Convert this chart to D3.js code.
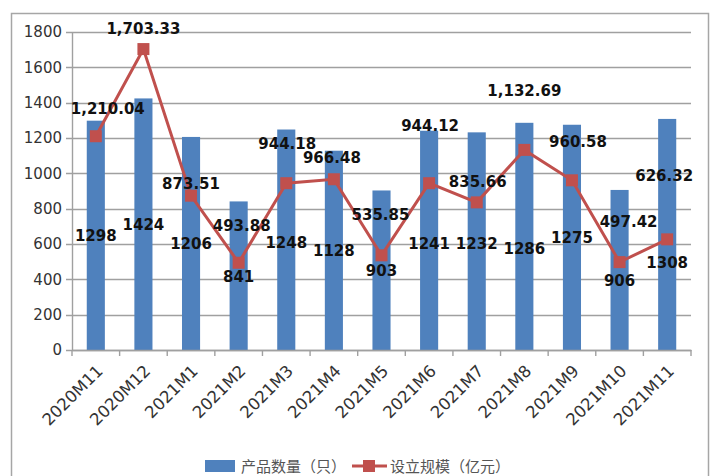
<!DOCTYPE html>
<html><head><meta charset="utf-8">
<script src="https://cdn.jsdelivr.net/npm/d3@7/dist/d3.min.js"></script>
<style>body{margin:0;background:#fff}svg{display:block}</style>
</head><body><div id="chart"></div>
<script>
const categories = ["2020M11","2020M12","2021M1","2021M2","2021M3","2021M4","2021M5","2021M6","2021M7","2021M8","2021M9","2021M10","2021M11"];
const productCount = [1298,1424,1206,841,1248,1128,903,1241,1232,1286,1275,906,1308];
const scaleValue = [1210.04,1703.33,873.51,493.88,944.18,966.48,535.85,944.12,835.66,1132.69,960.58,497.42,626.32];
const yTicks = [0,200,400,600,800,1000,1200,1400,1600,1800];
const seriesNames = ["产品数量（只）","设立规模（亿元）"];

// layout nudges for data labels (pixels), mimicking original placement
const barLabelDy = [0,0,0,0,2,0,0,3,2,12,0,10,28];
const lineLabelDx = [12,0,0,3,1,-2,-1,1,1,0,6,9,-3];
const lineLabelDy = [-28,-21,-13,-38,-40,-22,-41,-58,-21,-60,-39,-41,-64];

const W = 720, H = 476;
const m = {left:72, right:29, top:32, bottom:126};
const svg = d3.select("#chart").append("svg").attr("width",W).attr("height",H);
const font = "DejaVu Sans, sans-serif";

svg.append("rect").attr("x",11.5).attr("y",13.5).attr("width",697).attr("height",480)
  .attr("fill","none").attr("stroke","#a6a6a6").attr("stroke-width",1.5);

const x = d3.scaleBand().domain(categories).range([m.left, W-m.right]).paddingInner(0.62).paddingOuter(0.31);
const y = d3.scaleLinear().domain([0,1800]).range([H-m.bottom, m.top]);
const step = x.step();

// gridlines
svg.append("g").selectAll("line").data(yTicks).join("line")
  .attr("x1",m.left-6).attr("x2",W-m.right)
  .attr("y1",d=>Math.round(y(d))+0.5).attr("y2",d=>Math.round(y(d))+0.5)
  .attr("stroke","#a0a0a0").attr("stroke-width",1.4);

// y axis
const ya = svg.append("g").attr("transform",`translate(${m.left},0)`)
  .call(d3.axisLeft(y).tickValues(yTicks).tickFormat(d3.format("d")).tickSize(0).tickPadding(10));
ya.select(".domain").attr("stroke","#a0a0a0").attr("stroke-width",1.4);
ya.selectAll("text").attr("font-family",font).attr("font-size",15).attr("fill","#333");

// bars
svg.append("g").selectAll("rect").data(productCount).join("rect")
  .attr("x",(d,i)=>x(categories[i])).attr("width",x.bandwidth())
  .attr("y",d=>y(d)).attr("height",d=>y(0)-y(d)).attr("fill","#4f81bd");

// x axis
const xa = svg.append("g").attr("transform",`translate(0,${y(0)})`)
  .call(d3.axisBottom(x).tickSize(0).tickFormat(""));
xa.select(".domain").attr("stroke","#a0a0a0").attr("stroke-width",1.4);
const bounds = d3.range(categories.length+1).map(i=>m.left+i*step);
svg.append("g").selectAll("line").data(bounds).join("line")
  .attr("x1",d=>d).attr("x2",d=>d).attr("y1",y(0)).attr("y2",y(0)+6)
  .attr("stroke","#a0a0a0").attr("stroke-width",1.4);
svg.append("g").selectAll("text").data(categories).join("text")
  .attr("transform",d=>`translate(${x(d)+x.bandwidth()/2+8},${y(0)+22}) rotate(-45)`)
  .attr("text-anchor","end").attr("font-family",font).attr("font-size",16.5).attr("fill","#333")
  .text(d=>d);

// line
const cx = i => x(categories[i]) + x.bandwidth()/2;
svg.append("path").datum(scaleValue)
  .attr("d", d3.line().x((d,i)=>cx(i)).y(d=>y(d)))
  .attr("fill","none").attr("stroke","#c0504d").attr("stroke-width",3);
svg.append("g").selectAll("rect").data(scaleValue).join("rect")
  .attr("x",(d,i)=>cx(i)-6).attr("y",d=>y(d)-6).attr("width",12).attr("height",12)
  .attr("fill","#c0504d");

// bar labels
svg.append("g").selectAll("text").data(productCount).join("text")
  .attr("x",(d,i)=>cx(i)).attr("y",(d,i)=>y(d/2)+barLabelDy[i]+6)
  .attr("text-anchor","middle").attr("font-family",font).attr("font-weight","bold")
  .attr("font-size",15).attr("fill","#111").text(d=>d);

// line labels
const fmt = d3.format(",.2f");
svg.append("g").selectAll("text").data(scaleValue).join("text")
  .attr("x",(d,i)=>cx(i)+lineLabelDx[i]).attr("y",(d,i)=>y(d)+lineLabelDy[i]+6)
  .attr("text-anchor","middle").attr("font-family",font).attr("font-weight","bold")
  .attr("font-size",15).attr("fill","#111").text(d=>fmt(d));

// legend
const lg = svg.append("g");
const lgY = 466;
lg.append("rect").attr("x",205).attr("y",lgY-6).attr("width",30).attr("height",12).attr("fill","#4f81bd");
lg.append("text").attr("x",241).attr("y",lgY+5.5).attr("font-family","Noto Sans CJK SC, sans-serif")
  .attr("font-size",15).attr("fill","#555").text(seriesNames[0]);
lg.append("line").attr("x1",352).attr("x2",387).attr("y1",lgY).attr("y2",lgY)
  .attr("stroke","#c0504d").attr("stroke-width",3);
lg.append("rect").attr("x",363).attr("y",lgY-6).attr("width",12).attr("height",12).attr("fill","#c0504d");
lg.append("text").attr("x",390).attr("y",lgY+5.5).attr("font-family","Noto Sans CJK SC, sans-serif")
  .attr("font-size",15).attr("fill","#555").text(seriesNames[1]);
</script></body></html>
